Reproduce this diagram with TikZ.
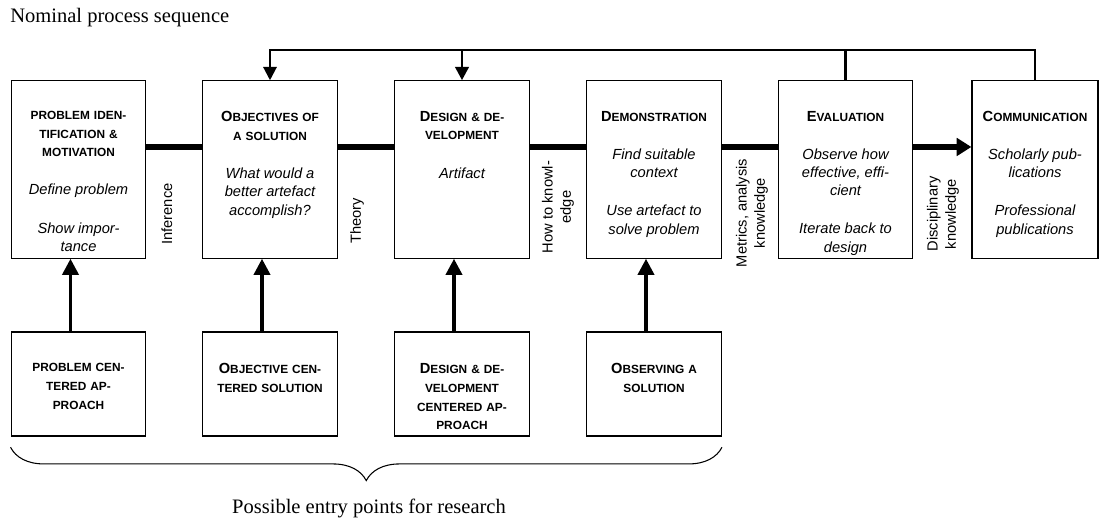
\documentclass[tikz,border=0pt]{standalone}
\usepackage{fontspec}
\setmainfont{Liberation Sans}
\newfontfamily\titlefont{Liberation Serif}
\usetikzlibrary{arrows.meta,positioning,decorations.pathreplacing}

\newcommand\bigc[1]{{\fontsize{11}{14}\selectfont #1}}
\newcommand\headfont{\fontsize{8.9}{14}\selectfont\bfseries}
\newcommand\bodyfont{\fontsize{11}{13.6}\selectfont\mdseries\itshape}

\tikzset{
  stage/.style={draw, line width=0.9pt, minimum width=101pt, minimum height=133pt, inner sep=0pt},
  entry/.style={draw, line width=0.9pt, minimum width=101pt, minimum height=78pt, inner sep=0pt},
  stagetext/.style={anchor=north, text width=98pt, align=center, inner sep=0pt, font=\headfont},
  flowlabel/.style={rotate=90, align=center, inner sep=0pt, font=\fontsize{11}{13.6}\selectfont},
  flow/.style={line width=4pt},
  entryarrow/.style={line width=2.6pt, -{Triangle[width=12pt,length=12pt]}},
  fbarrow/.style={-{Triangle[width=10pt,length=10pt]}},
}

\begin{document}
\begin{tikzpicture}[x=0.75pt, y=-0.75pt]
\useasboundingbox (0,0) rectangle (1099,518);

\node[anchor=west, inner sep=0pt, font=\titlefont\fontsize{15.4}{18}\selectfont] (title) at (10,18) {Nominal process sequence};

\node[stage] (ident) at (78.5,169.5) {};
\node[stage] (objs) at (270,169.5) {};
\node[stage] (design) at (462,169.5) {};
\node[stage] (demo) at (654,169.5) {};
\node[stage] (eval) at (845.5,169.5) {};
\node[stage, minimum width=94.5pt] (comm) at (1035,169.5) {};

\node[stagetext, below=23pt of ident.north] (identtxt) {PROBLEM IDEN-\\TIFICATION \&\\MOTIVATION\\[15pt]\bodyfont Define problem\\[15pt]Show impor-\\tance};
\node[stagetext, below=23pt of objs.north] (objstxt) {\bigc{O}BJECTIVES OF\\A SOLUTION\\[15pt]\bodyfont What would a\\better artefact\\accomplish?};
\node[stagetext, below=23pt of design.north] (designtxt) {\bigc{D}ESIGN \& DE-\\VELOPMENT\\[15pt]\bodyfont Artifact};
\node[stagetext, below=23pt of demo.north] (demotxt) {\bigc{D}EMONSTRATION\\[15pt]\bodyfont Find suitable\\context\\[15pt]Use artefact to\\solve problem};
\node[stagetext, below=23pt of eval.north] (evaltxt) {\bigc{E}VALUATION\\[15pt]\bodyfont Observe how\\effective, effi-\\cient\\[15pt]Iterate back to\\design};
\node[stagetext, text width=92pt, below=23pt of comm.north] (commtxt) {\bigc{C}OMMUNICATION\\[15pt]\bodyfont Scholarly pub-\\lications\\[15pt]Professional\\publications};

\node[entry] (pentry) at (78.5,384) {};
\node[entry] (oentry) at (270,384) {};
\node[entry] (dentry) at (462,384) {};
\node[entry] (sentry) at (654,384) {};

\node[stagetext, below=24pt of pentry.north] (pentrytxt) {PROBLEM CEN-\\TERED AP-\\PROACH};
\node[stagetext, below=24pt of oentry.north] (oentrytxt) {\bigc{O}BJECTIVE CEN-\\TERED SOLUTION};
\node[stagetext, below=24pt of dentry.north] (dentrytxt) {\bigc{D}ESIGN \& DE-\\VELOPMENT\\CENTERED AP-\\PROACH};
\node[stagetext, below=24pt of sentry.north] (sentrytxt) {\bigc{O}BSERVING A\\SOLUTION};

\foreach \a/\b in {ident/objs,objs/design,design/demo,demo/eval}
  \draw[flow] ([yshift=16.9pt]\a.east) -- ([yshift=16.9pt]\b.west);
\draw[flow, -{Triangle[width=13pt,length=11pt]}] ([yshift=16.9pt]eval.east) -- ([yshift=16.9pt]comm.west);

\node[flowlabel] (inference) at (167,214) {Inference};
\node[flowlabel] (theory) at (357,221) {Theory};
\node[flowlabel] (howto) at (558,207) {How to knowl-\\edge};
\node[flowlabel] (metrics) at (752,213) {Metrics, analysis\\knowledge};
\node[flowlabel] (discipl) at (943,214) {Disciplinary\\knowledge};

\foreach \a/\b in {pentry/ident,oentry/objs,dentry/design,sentry/demo}
  \draw[entryarrow] ([xshift=-6pt]\a.north) -- ([xshift=-6pt]\b.south);

\coordinate (fb) at (846,50);
\draw[line width=2.2pt, fbarrow] (eval.north) |- (fb -| design.north) -- (design.north);
\draw[line width=1.6pt, fbarrow] (fb -| design.north) -| (objs.north);
\draw[line width=1.1pt] (comm.north) |- (fb);

\draw[decorate, decoration={brace, mirror, amplitude=25pt}, line width=0.8pt]
  ([yshift=-8pt]pentry.south west) -- ([yshift=-8pt]sentry.south east);
\node[inner sep=0pt, font=\titlefont\fontsize{15.4}{18}\selectfont] (research) at (369,508) {Possible entry points for research};
\end{tikzpicture}
\end{document}
